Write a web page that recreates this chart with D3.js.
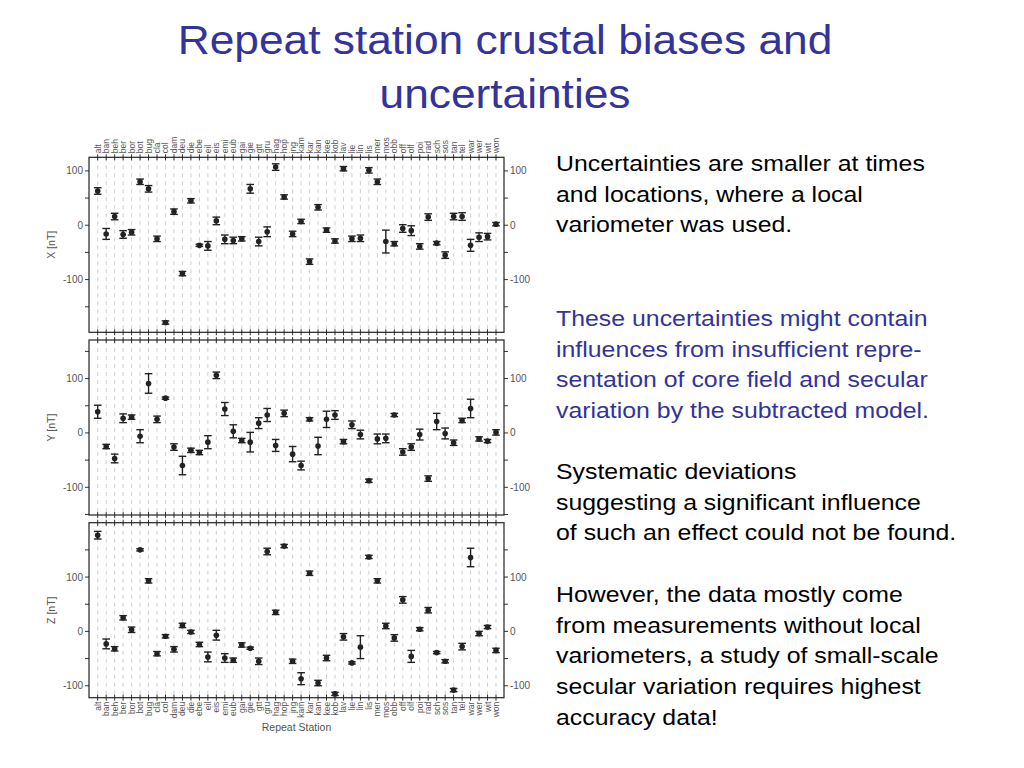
<!DOCTYPE html>
<html lang="en">
<head>
<meta charset="utf-8">
<title>Repeat station crustal biases and uncertainties</title>
<script src="https://cdn.jsdelivr.net/npm/d3@7"></script>
<style>
  body { margin: 0; background: #fff; }
  svg text { font-family: "Liberation Sans", Arial, sans-serif; }
</style>
</head>
<body>
<script>
// stations along the x axis
var stations = ["alt","ban","beh","ber","bor","bot","bug","cla","col","dam","deu","die",
  "ebe","eil","eis","emi","eub","gai","gie","gtt","gru","hag","hop","jng",
  "kam","kar","kan","kee","kob","lav","lie","lin","lis","mer","mos","obb",
  "off","olf","poi","rad","sch","sos","tan","tel","war","wer","wit","won"];

// crustal bias [nT] and uncertainty (half width) per component
var xBias = [63,-16,16,-17,-13,80,67,-25,-179,25,-89,45,-37,-38,8,-26,-28,-25,67,-30,-12,107,
  52,-16,7,-67,33,-9,-29,104,-25,-24,101,80,-30,-34,-6,-10,-39,15,-33,-55,16,16,-37,-22,-21,2];
var xErr = [6,10,6,7,5,5,6,5,3,5,4,4,2,8,7,8,6,4,8,8,9,6,
  4,5,4,5,5,4,4,4,5,6,5,5,21,4,7,9,5,6,3,6,6,7,11,8,6,3];

var yBias = [39,-25,-47,27,29,-6,91,25,64,-26,-60,-32,-36,-17,106,44,3,-14,-17,18,33,-23,
  36,-39,-60,25,-24,25,33,-16,15,-3,-88,-11,-10,33,-35,-26,-3,-84,21,-1,-18,23,45,-11,-15,1];
var yErr = [12,4,8,8,4,12,18,6,2,6,17,4,4,12,6,12,12,4,18,10,12,11,
  6,14,8,3,16,15,8,4,7,8,3,9,8,3,6,6,10,5,15,10,5,4,17,4,3,5];

var zBias = [177,-23,-32,25,3,150,93,-41,-9,-33,11,-1,-24,-47,-7,-49,-53,-25,-31,-55,147,35,
  157,-55,-87,107,-95,-49,-115,-10,-58,-29,137,93,10,-12,58,-46,4,39,-39,-55,-108,-28,136,-4,8,-35];
var zErr = [7,9,4,4,5,2,4,4,3,5,4,3,4,9,9,8,4,4,2,6,6,4,
  3,4,11,4,5,5,3,6,2,21,3,4,5,6,6,11,3,5,2,3,3,6,17,4,3,4];

var panelNames = ["X [nT]", "Y [nT]", "Z [nT]"];
var panelDomains = [[-197, 125], [-151, 171], [-122, 200]];
var yTicks = [-150, -100, -50, 0, 50, 100, 150];
var yLabelled = [-100, 0, 100];

var notes = [
  {lines: ["Uncertainties are smaller at times", "and locations, where a local", "variometer was used."], color: "#000", y: 171},
  {lines: ["These uncertainties might contain", "influences from insufficient repre-", "sentation of core field and secular", "variation by the subtracted model."], color: "#333399", y: 326},
  {lines: ["Systematic deviations", "suggesting a significant influence", "of such an effect could not be found."], color: "#000", y: 479},
  {lines: ["However, the data mostly come", "from measurements without local", "variometers, a study of small-scale", "secular variation requires highest", "accuracy data!"], color: "#000", y: 602}
];

var w = 1024, h = 768;
var svg = d3.select("body").append("svg").attr("width", w).attr("height", h);

// title (slide text is a bit wider than plain Arial)
svg.append("g").selectAll("text")
  .data(["Repeat station crustal biases and", "uncertainties"])
  .enter().append("text")
  .attr("transform", function(d, i) { return "translate(505," + (54 + i * 54) + ") scale(1.08,1)"; })
  .attr("text-anchor", "middle")
  .attr("font-size", 41)
  .attr("fill", "#333399")
  .text(function(d) { return d; });

// right hand notes
notes.forEach(function(n) {
  svg.append("g").selectAll("text")
    .data(n.lines)
    .enter().append("text")
    .attr("transform", function(d, i) { return "translate(556," + (n.y + i * 30.7) + ") scale(1.13,1)"; })
    .attr("font-size", 22)
    .attr("fill", n.color)
    .text(function(d) { return d; });
});

// chart
var left = 89, right = 504;
var panelTop = [157.3, 340, 522.7];
var panelH = 175;
var grey = "#555";

var x = d3.scalePoint().domain(stations).range([97.7, 496]);

var panelData = [
  stations.map(function(s, i) { return {s: s, v: xBias[i], e: xErr[i]}; }),
  stations.map(function(s, i) { return {s: s, v: yBias[i], e: yErr[i]}; }),
  stations.map(function(s, i) { return {s: s, v: zBias[i], e: zErr[i]}; })
];

panelData.forEach(function(data, p) {
  var top = panelTop[p];
  var y = d3.scaleLinear().domain(panelDomains[p]).range([top + panelH, top]);
  var g = svg.append("g");

  // dashed station grid
  g.selectAll("line.grid")
    .data(stations)
    .enter().append("line")
    .attr("x1", function(d) { return x(d); })
    .attr("x2", function(d) { return x(d); })
    .attr("y1", top)
    .attr("y2", top + panelH)
    .attr("stroke", "#cfcfcf")
    .attr("stroke-width", 1)
    .attr("stroke-dasharray", "4,4");

  // ticks on top and bottom edge
  [top, top + panelH].forEach(function(edge) {
    g.selectAll(null)
      .data(stations)
      .enter().append("line")
      .attr("x1", function(d) { return x(d); })
      .attr("x2", function(d) { return x(d); })
      .attr("y1", edge - 3)
      .attr("y2", edge + 3)
      .attr("stroke", "#333")
      .attr("stroke-width", 1);
  });

  // left and right axes
  var ticks = yTicks.filter(function(t) {
    return t > panelDomains[p][0] && t < panelDomains[p][1];
  });
  [left, right].forEach(function(edge, k) {
    var dir = k == 0 ? -1 : 1;
    g.selectAll(null)
      .data(ticks)
      .enter().append("line")
      .attr("x1", edge)
      .attr("x2", edge + dir * 4)
      .attr("y1", function(d) { return y(d); })
      .attr("y2", function(d) { return y(d); })
      .attr("stroke", "#333")
      .attr("stroke-width", 1);
    g.selectAll(null)
      .data(yLabelled)
      .enter().append("text")
      .attr("x", edge + dir * 6)
      .attr("y", function(d) { return y(d) + 3.5; })
      .attr("text-anchor", k == 0 ? "end" : "start")
      .attr("font-size", 10)
      .attr("fill", grey)
      .text(function(d) { return d; });
  });

  // panel border
  g.append("rect")
    .attr("x", left).attr("y", top)
    .attr("width", right - left).attr("height", panelH)
    .attr("fill", "none")
    .attr("stroke", "#222")
    .attr("stroke-width", 1.2);

  // error bars
  var bars = g.selectAll("g.bar")
    .data(data)
    .enter().append("g");
  bars.append("line")
    .attr("x1", function(d) { return x(d.s); })
    .attr("x2", function(d) { return x(d.s); })
    .attr("y1", function(d) { return y(d.v - d.e); })
    .attr("y2", function(d) { return y(d.v + d.e); })
    .attr("stroke", "#222").attr("stroke-width", 1.4);
  [-1, 1].forEach(function(sg) {
    bars.append("line")
      .attr("x1", function(d) { return x(d.s) - 3.8; })
      .attr("x2", function(d) { return x(d.s) + 3.8; })
      .attr("y1", function(d) { return y(d.v + sg * d.e); })
      .attr("y2", function(d) { return y(d.v + sg * d.e); })
      .attr("stroke", "#222").attr("stroke-width", 1.4);
  });
  bars.append("circle")
    .attr("cx", function(d) { return x(d.s); })
    .attr("cy", function(d) { return y(d.v); })
    .attr("r", 2.8)
    .attr("fill", "#222");

  // axis title
  var cy = top + panelH / 2;
  g.append("text")
    .attr("transform", "translate(55," + cy + ") rotate(-90)")
    .attr("text-anchor", "middle")
    .attr("font-size", 10.5)
    .attr("fill", grey)
    .text(panelNames[p]);
});

// station labels top and bottom
var topEdge = panelTop[0] - 4;
svg.append("g").selectAll("text")
  .data(stations)
  .enter().append("text")
  .attr("transform", function(d) { return "translate(" + (x(d) + 3) + "," + topEdge + ") rotate(-90)"; })
  .attr("text-anchor", "start")
  .attr("font-size", 8.5)
  .attr("fill", grey)
  .text(function(d) { return d; });

var bottomEdge = panelTop[2] + panelH + 4;
svg.append("g").selectAll("text")
  .data(stations)
  .enter().append("text")
  .attr("transform", function(d) { return "translate(" + (x(d) + 3) + "," + bottomEdge + ") rotate(-90)"; })
  .attr("text-anchor", "end")
  .attr("font-size", 8.5)
  .attr("fill", grey)
  .text(function(d) { return d; });

svg.append("text")
  .attr("x", (left + right) / 2)
  .attr("y", 731)
  .attr("text-anchor", "middle")
  .attr("font-size", 10.5)
  .attr("fill", grey)
  .text("Repeat Station");
</script>
</body>
</html>
